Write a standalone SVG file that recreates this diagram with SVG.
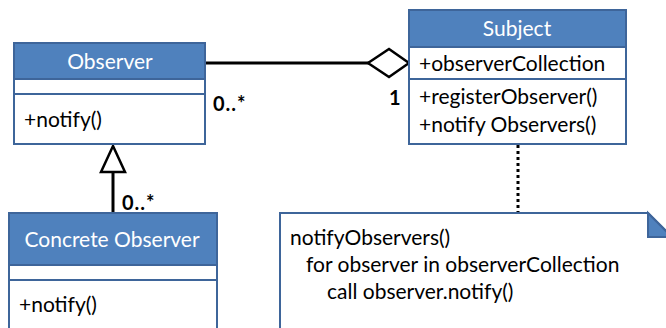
<svg xmlns="http://www.w3.org/2000/svg" width="666" height="328" viewBox="0 0 666 328">
<style>
.box{fill:#ffffff;stroke:#3e659a;stroke-width:2}
.hdr{fill:#4f81bd;stroke:#3e659a;stroke-width:2}
.t{font-family:Lato,"Liberation Sans",sans-serif;font-size:21px;fill:#000}
.h{font-family:Lato,"Liberation Sans",sans-serif;font-size:21px;fill:#ffffff;text-anchor:middle}
.m{font-family:Lato,"Liberation Sans",sans-serif;font-size:20px;font-weight:bold;fill:#000;letter-spacing:1px}
.ln{stroke:#000;stroke-width:3;fill:none}
</style>
<rect width="666" height="328" fill="#ffffff"/>
<g id="connectors">
<line class="ln" x1="205" y1="63" x2="369" y2="63"/>
<polygon points="368,63 389,49 409,63 389,77" fill="#ffffff" stroke="#000" stroke-width="2.5"/>
<line class="ln" x1="113" y1="172" x2="113" y2="213"/>
<polygon points="113,146 101,172 125,172" fill="#ffffff" stroke="#000" stroke-width="2.5"/>
<line x1="518" y1="145" x2="518" y2="213" stroke="#000" stroke-width="3" stroke-dasharray="3 3"/>
<text class="m" x="213" y="111">0..*</text>
<text class="m" x="389" y="105">1</text>
<text class="m" x="122" y="210">0..*</text>
</g>
<g id="observer">
<rect class="box" x="14" y="43" width="191" height="101"/>
<rect class="hdr" x="14" y="43" width="191" height="36"/>
<line x1="14" y1="94" x2="205" y2="94" stroke="#3e659a" stroke-width="2"/>
<text class="h" x="110" y="69">Observer</text>
<text class="t" x="24" y="127">+notify()</text>
</g>
<g id="subject">
<rect class="box" x="409" y="10" width="217" height="134"/>
<rect class="hdr" x="409" y="10" width="217" height="37"/>
<line x1="409" y1="79" x2="626" y2="79" stroke="#3e659a" stroke-width="2"/>
<text class="h" x="517" y="36">Subject</text>
<text class="t" x="419" y="71">+observerCollection</text>
<text class="t" x="419" y="104">+registerObserver()</text>
<text class="t" x="419" y="132">+notify Observers()</text>
</g>
<g id="concrete-observer">
<rect class="box" x="9" y="213" width="208" height="130"/>
<rect class="hdr" x="9" y="213" width="208" height="52"/>
<line x1="9" y1="280" x2="217" y2="280" stroke="#3e659a" stroke-width="2"/>
<text class="h" x="112" y="247">Concrete Observer</text>
<text class="t" x="19" y="312">+notify()</text>
</g>
<g id="note">
<path d="M280,340 L280,213 L648,213 L680,245 L680,340" fill="#ffffff" stroke="#3e659a" stroke-width="2"/>
<polygon points="648,213 648,237 672,237" fill="#4f81bd" stroke="#3e659a" stroke-width="2"/>
<text class="t" x="290" y="245">notifyObservers()</text>
<text class="t" x="306" y="272">for observer in observerCollection</text>
<text class="t" x="327" y="299">call observer.notify()</text>
</g>
</svg>
